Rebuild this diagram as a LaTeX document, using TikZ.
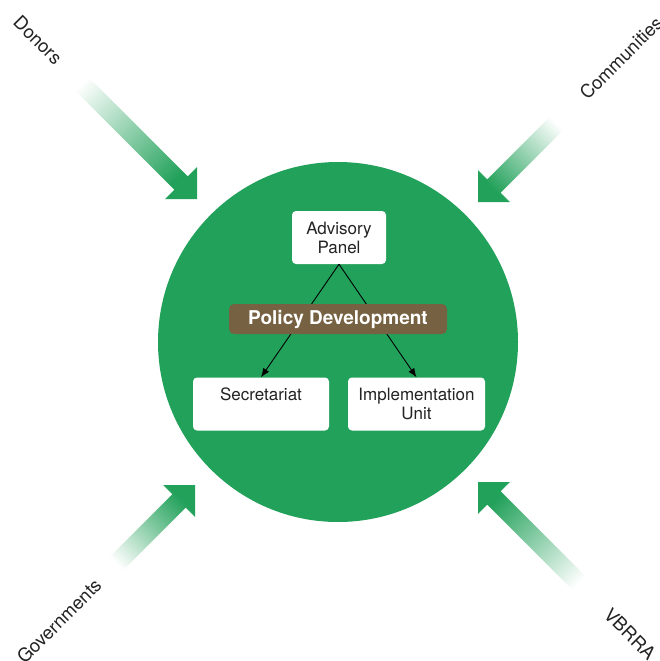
\documentclass[tikz,border=0pt]{standalone}
\usepackage{fontspec}
\setmainfont{TeX Gyre Heros}
\usetikzlibrary{arrows.meta}
\definecolor{ag}{RGB}{34,161,90}
\definecolor{brn}{RGB}{118,98,66}
\definecolor{txt}{RGB}{35,35,35}
\pgfdeclareverticalshading{fadegreen}{100bp}{color(0bp)=(ag); color(25bp)=(ag); color(75bp)=(white); color(100bp)=(white)}
\tikzset{
  box/.style={fill=white, rounded corners=4pt, inner sep=0pt, align=center, text=txt,
    font=\fontsize{17}{19}\selectfont, minimum height=53pt},
  policy/.style={fill=brn, rounded corners=5pt, text=white, inner sep=0pt,
    font=\bfseries\fontsize{19}{21}\selectfont, minimum width=218pt, minimum height=30pt},
  lbl/.style={font=\fontsize{18.5}{21}\selectfont, inner sep=0pt, text=txt},
  link/.style={line width=0.9pt, draw=black, -{Latex[length=9pt,width=7pt]}},
}
\begin{document}
\begin{tikzpicture}[x=1pt,y=-1pt]
\useasboundingbox (0,0) rectangle (659,661);
% hub circle
\node[circle, fill=ag, minimum size=360pt, inner sep=0pt] (hub) at (338,342) {};
% fat gradient arrows: tip x / tip y / dir x / dir y / shaft length / shading angle
\foreach \tx/\ty/\dx/\dy/\Lt/\ang in {197/199/1/1/129/45, 478/202/-1/1/86/-45, 195/485/1/-1/86/135, 478/482/-1/-1/112/225}{
  \shade[shading=fadegreen, shading angle=\ang]
    (\tx,\ty) -- ({\tx},{\ty-32*\dy}) -- ({\tx-9.2*\dx},{\ty-22.6*\dy})
    -- ({\tx+(-\Lt+6.7)*\dx},{\ty+(-\Lt-6.7)*\dy})
    -- ({\tx+(-\Lt-6.7)*\dx},{\ty+(-\Lt+6.7)*\dy})
    -- ({\tx-22.6*\dx},{\ty-9.2*\dy}) -- ({\tx-32*\dx},{\ty}) -- cycle;
}
% outer labels
\node[lbl, rotate=-45] (donors) at (38,40) {Donors};
\node[lbl, rotate=45] (comm) at (621,58) {Communities};
\node[lbl, rotate=45] (gov) at (59,621) {Governments};
\node[lbl, rotate=-45] (vbrra) at (630,634) {VBRRA};
% inner boxes
\node[box, minimum width=94pt] (ap) at (339,237.5) {Advisory\\Panel};
\node[box, minimum width=136pt] (sec) at (261,404) {Secretariat\\\mbox{}};
\node[box, minimum width=137pt] (imp) at (416.5,404) {Implementation\\Unit};
\draw[link] (ap.south) -- (sec.north);
\draw[link] (ap.south) -- (imp.north);
\node[policy] (pd) at (338,319) {Policy Development};
\end{tikzpicture}
\end{document}
